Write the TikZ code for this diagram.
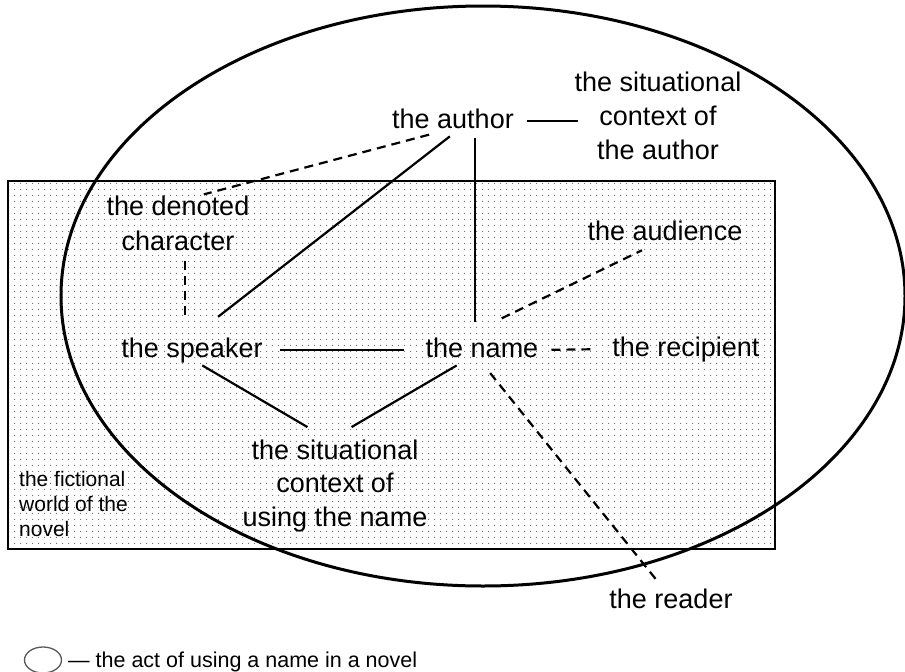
\documentclass[tikz,border=0pt]{standalone}
\usepackage{fontspec}
\setmainfont{Liberation Sans}
\usetikzlibrary{patterns.meta,shapes.geometric}

\tikzdeclarepattern{
  name=finedots,
  type=uncolored,
  bottom left={(0pt,0pt)},
  top right={(6pt,6pt)},
  tile size={(6pt,6pt)},
  code={\fill (3pt,3pt) circle (0.75pt);}
}

\begin{document}
\begin{tikzpicture}[x=1pt, y=-1pt,
  lbl/.style={font=\fontsize{27pt}{34pt}\selectfont, inner sep=0pt, text height=19.7pt, text depth=5.7pt},
  multi/.style={font=\fontsize{27pt}{34pt}\selectfont, inner sep=0pt, align=center},
  link/.style={line width=2.2pt},
  dlink/.style={line width=2.2pt, dash pattern=on 9pt off 6pt}]
\useasboundingbox (0,0) rectangle (905,672);

% the novel and the act of naming
\draw[line width=2pt, pattern=finedots, pattern color=gray!80!black] (8,181) rectangle (775,549);
\draw[line width=3pt] (483,296) ellipse [x radius=422pt, y radius=290pt];

\node[lbl] (author) at (453,121) {the author};
\node[multi] (ctxauthor) at (658,116) {the situational\\context of\\the author};
\node[multi, font=\fontsize{27pt}{35pt}\selectfont] (denoted) at (178,223) {the denoted\\character};
\node[lbl] (audience) at (665,233) {the audience};
\node[lbl] (speaker) at (192,350) {the speaker};
\node[lbl] (name) at (482,350) {the name};
\node[lbl] (recipient) at (686,349) {the recipient};
\node[multi, font=\fontsize{27pt}{33.5pt}\selectfont] (ctxname) at (335,486) {the situational\\context of\\using the name};
\node[anchor=west, align=left, inner sep=0pt, font=\fontsize{21pt}{25pt}\selectfont] (world) at (19,504) {the fictional\\world of the\\novel};
\node[lbl] (reader) at (671,601) {the reader};

% legend
\node[draw=gray!70!black, line width=1.3pt, ellipse, minimum width=37pt, minimum height=26pt, inner sep=0pt] (key) at (43,660) {};
\node[lbl, font=\fontsize{21.5pt}{25pt}\selectfont, text height=15.7pt, text depth=4.5pt, anchor=west] (keytext) at (68,662) {— the act of using a name in a novel};

\coordinate (nameup) at ([xshift=-7pt]name.north);
\coordinate (dnbot) at ([xshift=7pt]denoted.south);

\draw[link, shorten <=13pt, shorten >=-4pt] (author.east) -- (ctxauthor.west |- author.east);
\draw[link, shorten <=4pt, shorten >=33pt] (author.south) -- (speaker.north);
\draw[link, shorten <=4pt, shorten >=15pt] (nameup |- author.south) -- (nameup);
\draw[dlink, shorten <=3pt, shorten >=4pt] ([xshift=-21pt]author.south) -- ([xshift=22pt]denoted.north);
\draw[dlink, shorten <=10pt, shorten >=20pt] (dnbot) -- (dnbot |- speaker.north);
\draw[link, shorten <=17pt, shorten >=22pt] (speaker.east) -- (name.west);
\draw[dlink, shorten <=13pt, shorten >=17pt] (name.east) -- (recipient.west);
\draw[dlink, shorten <=43pt, shorten >=10pt] ([xshift=-19pt]name.north) -- ([xshift=-14pt]audience.south);
\draw[dlink, shorten <=13pt, shorten >=8pt] (name.south) -- ([xshift=-8pt]reader.north);
\draw[link, shorten <=5pt, shorten >=25pt] ([xshift=6pt]speaker.south) -- ([xshift=-6pt]ctxname.north);
\draw[link, shorten <=5pt, shorten >=25pt] ([xshift=-21pt]name.south) -- ([xshift=-5pt]ctxname.north);
\end{tikzpicture}
\end{document}
